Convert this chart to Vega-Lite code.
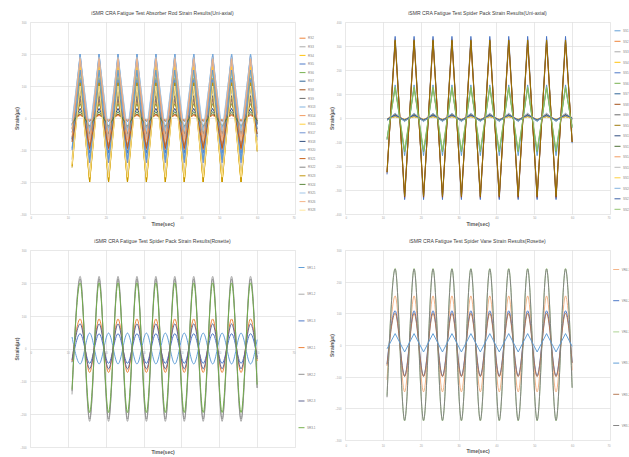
{
"$schema": "https://vega.github.io/schema/vega-lite/v6.json",
"background": "white",
"padding": {"left": 14, "top": 10, "right": 0, "bottom": 0},
"config": {
  "view": {"stroke": null},
  "font": "Liberation Sans",
  "title": {"fontSize": 5.1, "fontWeight": "normal", "color": "#404040", "offset": 5, "anchor": "middle"},
  "axis": {"gridColor": "#d9d9d9", "gridWidth": 0.6, "domain": false, "ticks": false, "labelFontSize": 2.8, "labelColor": "#a6a6a6", "titleFontSize": 5, "titleFontWeight": "bold", "titleColor": "#595959", "labelOverlap": false},
  "axisX": {"labelPadding": 2.5, "titlePadding": 2},
  "axisY": {"labelPadding": 4, "titlePadding": 0.5},
  "legend": {"orient": "none", "direction": "vertical", "symbolType": "stroke", "symbolSize": 36, "symbolStrokeWidth": 1, "labelFontSize": 3, "labelColor": "#7f7f7f", "labelOffset": 2, "padding": 0},
  "line": {"strokeWidth": 0.95}
},
"datasets": {
"p1": [
{"t":11.1,"RS2":-4,"RS3":-130,"RS4":-150,"RS5":-70,"RS6":-30,"RS7":-65,"RS8":-7,"RS9":-45,"RS13":-25,"RS14":-60,"RS15":-145,"RS17":-100,"RS18":-20,"RS20":-95,"RS21":-75,"RS22":-35,"RS23":-155,"RS24":-18,"RS25":-10,"RS26":-35,"RS28":-145},
{"t":13.25,"RS2":8,"RS3":180,"RS4":125,"RS5":200,"RS6":45,"RS7":90,"RS8":12,"RS9":70,"RS13":200,"RS14":190,"RS15":160,"RS17":120,"RS18":30,"RS20":150,"RS21":60,"RS22":60,"RS23":110,"RS24":20,"RS25":190,"RS26":185,"RS28":100},
{"t":15.75,"RS2":-6,"RS3":-180,"RS4":-200,"RS5":-110,"RS6":-40,"RS7":-90,"RS8":-10,"RS9":-60,"RS13":-60,"RS14":-100,"RS15":-200,"RS17":-140,"RS18":-30,"RS20":-130,"RS21":-95,"RS22":-50,"RS23":-200,"RS24":-25,"RS25":-40,"RS26":-70,"RS28":-185},
{"t":18.25,"RS2":8,"RS3":180,"RS4":125,"RS5":200,"RS6":45,"RS7":90,"RS8":12,"RS9":70,"RS13":200,"RS14":190,"RS15":160,"RS17":120,"RS18":30,"RS20":150,"RS21":60,"RS22":60,"RS23":110,"RS24":20,"RS25":190,"RS26":185,"RS28":100},
{"t":20.75,"RS2":-6,"RS3":-180,"RS4":-200,"RS5":-110,"RS6":-40,"RS7":-90,"RS8":-10,"RS9":-60,"RS13":-60,"RS14":-100,"RS15":-200,"RS17":-140,"RS18":-30,"RS20":-130,"RS21":-95,"RS22":-50,"RS23":-200,"RS24":-25,"RS25":-40,"RS26":-70,"RS28":-185},
{"t":23.25,"RS2":8,"RS3":180,"RS4":125,"RS5":200,"RS6":45,"RS7":90,"RS8":12,"RS9":70,"RS13":200,"RS14":190,"RS15":160,"RS17":120,"RS18":30,"RS20":150,"RS21":60,"RS22":60,"RS23":110,"RS24":20,"RS25":190,"RS26":185,"RS28":100},
{"t":25.75,"RS2":-6,"RS3":-180,"RS4":-200,"RS5":-110,"RS6":-40,"RS7":-90,"RS8":-10,"RS9":-60,"RS13":-60,"RS14":-100,"RS15":-200,"RS17":-140,"RS18":-30,"RS20":-130,"RS21":-95,"RS22":-50,"RS23":-200,"RS24":-25,"RS25":-40,"RS26":-70,"RS28":-185},
{"t":28.25,"RS2":8,"RS3":180,"RS4":125,"RS5":200,"RS6":45,"RS7":90,"RS8":12,"RS9":70,"RS13":200,"RS14":190,"RS15":160,"RS17":120,"RS18":30,"RS20":150,"RS21":60,"RS22":60,"RS23":110,"RS24":20,"RS25":190,"RS26":185,"RS28":100},
{"t":30.75,"RS2":-6,"RS3":-180,"RS4":-200,"RS5":-110,"RS6":-40,"RS7":-90,"RS8":-10,"RS9":-60,"RS13":-60,"RS14":-100,"RS15":-200,"RS17":-140,"RS18":-30,"RS20":-130,"RS21":-95,"RS22":-50,"RS23":-200,"RS24":-25,"RS25":-40,"RS26":-70,"RS28":-185},
{"t":33.25,"RS2":8,"RS3":180,"RS4":125,"RS5":200,"RS6":45,"RS7":90,"RS8":12,"RS9":70,"RS13":200,"RS14":190,"RS15":160,"RS17":120,"RS18":30,"RS20":150,"RS21":60,"RS22":60,"RS23":110,"RS24":20,"RS25":190,"RS26":185,"RS28":100},
{"t":35.75,"RS2":-6,"RS3":-180,"RS4":-200,"RS5":-110,"RS6":-40,"RS7":-90,"RS8":-10,"RS9":-60,"RS13":-60,"RS14":-100,"RS15":-200,"RS17":-140,"RS18":-30,"RS20":-130,"RS21":-95,"RS22":-50,"RS23":-200,"RS24":-25,"RS25":-40,"RS26":-70,"RS28":-185},
{"t":38.25,"RS2":8,"RS3":180,"RS4":125,"RS5":200,"RS6":45,"RS7":90,"RS8":12,"RS9":70,"RS13":200,"RS14":190,"RS15":160,"RS17":120,"RS18":30,"RS20":150,"RS21":60,"RS22":60,"RS23":110,"RS24":20,"RS25":190,"RS26":185,"RS28":100},
{"t":40.75,"RS2":-6,"RS3":-180,"RS4":-200,"RS5":-110,"RS6":-40,"RS7":-90,"RS8":-10,"RS9":-60,"RS13":-60,"RS14":-100,"RS15":-200,"RS17":-140,"RS18":-30,"RS20":-130,"RS21":-95,"RS22":-50,"RS23":-200,"RS24":-25,"RS25":-40,"RS26":-70,"RS28":-185},
{"t":43.25,"RS2":8,"RS3":180,"RS4":125,"RS5":200,"RS6":45,"RS7":90,"RS8":12,"RS9":70,"RS13":200,"RS14":190,"RS15":160,"RS17":120,"RS18":30,"RS20":150,"RS21":60,"RS22":60,"RS23":110,"RS24":20,"RS25":190,"RS26":185,"RS28":100},
{"t":45.75,"RS2":-6,"RS3":-180,"RS4":-200,"RS5":-110,"RS6":-40,"RS7":-90,"RS8":-10,"RS9":-60,"RS13":-60,"RS14":-100,"RS15":-200,"RS17":-140,"RS18":-30,"RS20":-130,"RS21":-95,"RS22":-50,"RS23":-200,"RS24":-25,"RS25":-40,"RS26":-70,"RS28":-185},
{"t":48.25,"RS2":8,"RS3":180,"RS4":125,"RS5":200,"RS6":45,"RS7":90,"RS8":12,"RS9":70,"RS13":200,"RS14":190,"RS15":160,"RS17":120,"RS18":30,"RS20":150,"RS21":60,"RS22":60,"RS23":110,"RS24":20,"RS25":190,"RS26":185,"RS28":100},
{"t":50.75,"RS2":-6,"RS3":-180,"RS4":-200,"RS5":-110,"RS6":-40,"RS7":-90,"RS8":-10,"RS9":-60,"RS13":-60,"RS14":-100,"RS15":-200,"RS17":-140,"RS18":-30,"RS20":-130,"RS21":-95,"RS22":-50,"RS23":-200,"RS24":-25,"RS25":-40,"RS26":-70,"RS28":-185},
{"t":53.25,"RS2":8,"RS3":180,"RS4":125,"RS5":200,"RS6":45,"RS7":90,"RS8":12,"RS9":70,"RS13":200,"RS14":190,"RS15":160,"RS17":120,"RS18":30,"RS20":150,"RS21":60,"RS22":60,"RS23":110,"RS24":20,"RS25":190,"RS26":185,"RS28":100},
{"t":55.75,"RS2":-6,"RS3":-180,"RS4":-200,"RS5":-110,"RS6":-40,"RS7":-90,"RS8":-10,"RS9":-60,"RS13":-60,"RS14":-100,"RS15":-200,"RS17":-140,"RS18":-30,"RS20":-130,"RS21":-95,"RS22":-50,"RS23":-200,"RS24":-25,"RS25":-40,"RS26":-70,"RS28":-185},
{"t":58.25,"RS2":8,"RS3":180,"RS4":125,"RS5":200,"RS6":45,"RS7":90,"RS8":12,"RS9":70,"RS13":200,"RS14":190,"RS15":160,"RS17":120,"RS18":30,"RS20":150,"RS21":60,"RS22":60,"RS23":110,"RS24":20,"RS25":190,"RS26":185,"RS28":100},
{"t":60,"RS2":-2,"RS3":-70,"RS4":-100,"RS5":-20,"RS6":-15,"RS7":-35,"RS8":-3,"RS9":-20,"RS13":15,"RS14":-10,"RS15":-90,"RS17":-60,"RS18":-10,"RS20":-50,"RS21":-50,"RS22":-15,"RS23":-105,"RS24":-8,"RS25":30,"RS26":10,"RS28":-100}
],
"p2": [
{"t":11.1,"SS1":-90,"SS2":-230,"SS3":-8,"SS4":-5,"SS5":-235,"SS6":-85,"SS7":-8,"SS8":-225,"SS9":-6,"SS10":-225,"SS11":-4,"SS13":-8,"SS14":-4,"SS18":-6,"SS19":-3,"SS20":-10,"SS21":-5,"SS22":-90},
{"t":13.25,"SS1":138,"SS2":330,"SS3":12,"SS4":8,"SS5":340,"SS6":125,"SS7":10,"SS8":320,"SS9":15,"SS10":325,"SS11":6,"SS13":14,"SS14":18,"SS18":10,"SS19":5,"SS20":20,"SS21":12,"SS22":130},
{"t":15.75,"SS1":-157,"SS2":-335,"SS3":-10,"SS4":-8,"SS5":-340,"SS6":-140,"SS7":-12,"SS8":-330,"SS9":-10,"SS10":-325,"SS11":-6,"SS13":-12,"SS14":-8,"SS18":-10,"SS19":-5,"SS20":-15,"SS21":-8,"SS22":-135},
{"t":18.25,"SS1":138,"SS2":330,"SS3":12,"SS4":8,"SS5":340,"SS6":125,"SS7":10,"SS8":320,"SS9":15,"SS10":325,"SS11":6,"SS13":14,"SS14":18,"SS18":10,"SS19":5,"SS20":20,"SS21":12,"SS22":130},
{"t":20.75,"SS1":-157,"SS2":-335,"SS3":-10,"SS4":-8,"SS5":-340,"SS6":-140,"SS7":-12,"SS8":-330,"SS9":-10,"SS10":-325,"SS11":-6,"SS13":-12,"SS14":-8,"SS18":-10,"SS19":-5,"SS20":-15,"SS21":-8,"SS22":-135},
{"t":23.25,"SS1":138,"SS2":330,"SS3":12,"SS4":8,"SS5":340,"SS6":125,"SS7":10,"SS8":320,"SS9":15,"SS10":325,"SS11":6,"SS13":14,"SS14":18,"SS18":10,"SS19":5,"SS20":20,"SS21":12,"SS22":130},
{"t":25.75,"SS1":-157,"SS2":-335,"SS3":-10,"SS4":-8,"SS5":-340,"SS6":-140,"SS7":-12,"SS8":-330,"SS9":-10,"SS10":-325,"SS11":-6,"SS13":-12,"SS14":-8,"SS18":-10,"SS19":-5,"SS20":-15,"SS21":-8,"SS22":-135},
{"t":28.25,"SS1":138,"SS2":330,"SS3":12,"SS4":8,"SS5":340,"SS6":125,"SS7":10,"SS8":320,"SS9":15,"SS10":325,"SS11":6,"SS13":14,"SS14":18,"SS18":10,"SS19":5,"SS20":20,"SS21":12,"SS22":130},
{"t":30.75,"SS1":-157,"SS2":-335,"SS3":-10,"SS4":-8,"SS5":-340,"SS6":-140,"SS7":-12,"SS8":-330,"SS9":-10,"SS10":-325,"SS11":-6,"SS13":-12,"SS14":-8,"SS18":-10,"SS19":-5,"SS20":-15,"SS21":-8,"SS22":-135},
{"t":33.25,"SS1":138,"SS2":330,"SS3":12,"SS4":8,"SS5":340,"SS6":125,"SS7":10,"SS8":320,"SS9":15,"SS10":325,"SS11":6,"SS13":14,"SS14":18,"SS18":10,"SS19":5,"SS20":20,"SS21":12,"SS22":130},
{"t":35.75,"SS1":-157,"SS2":-335,"SS3":-10,"SS4":-8,"SS5":-340,"SS6":-140,"SS7":-12,"SS8":-330,"SS9":-10,"SS10":-325,"SS11":-6,"SS13":-12,"SS14":-8,"SS18":-10,"SS19":-5,"SS20":-15,"SS21":-8,"SS22":-135},
{"t":38.25,"SS1":138,"SS2":330,"SS3":12,"SS4":8,"SS5":340,"SS6":125,"SS7":10,"SS8":320,"SS9":15,"SS10":325,"SS11":6,"SS13":14,"SS14":18,"SS18":10,"SS19":5,"SS20":20,"SS21":12,"SS22":130},
{"t":40.75,"SS1":-157,"SS2":-335,"SS3":-10,"SS4":-8,"SS5":-340,"SS6":-140,"SS7":-12,"SS8":-330,"SS9":-10,"SS10":-325,"SS11":-6,"SS13":-12,"SS14":-8,"SS18":-10,"SS19":-5,"SS20":-15,"SS21":-8,"SS22":-135},
{"t":43.25,"SS1":138,"SS2":330,"SS3":12,"SS4":8,"SS5":340,"SS6":125,"SS7":10,"SS8":320,"SS9":15,"SS10":325,"SS11":6,"SS13":14,"SS14":18,"SS18":10,"SS19":5,"SS20":20,"SS21":12,"SS22":130},
{"t":45.75,"SS1":-157,"SS2":-335,"SS3":-10,"SS4":-8,"SS5":-340,"SS6":-140,"SS7":-12,"SS8":-330,"SS9":-10,"SS10":-325,"SS11":-6,"SS13":-12,"SS14":-8,"SS18":-10,"SS19":-5,"SS20":-15,"SS21":-8,"SS22":-135},
{"t":48.25,"SS1":138,"SS2":330,"SS3":12,"SS4":8,"SS5":340,"SS6":125,"SS7":10,"SS8":320,"SS9":15,"SS10":325,"SS11":6,"SS13":14,"SS14":18,"SS18":10,"SS19":5,"SS20":20,"SS21":12,"SS22":130},
{"t":50.75,"SS1":-157,"SS2":-335,"SS3":-10,"SS4":-8,"SS5":-340,"SS6":-140,"SS7":-12,"SS8":-330,"SS9":-10,"SS10":-325,"SS11":-6,"SS13":-12,"SS14":-8,"SS18":-10,"SS19":-5,"SS20":-15,"SS21":-8,"SS22":-135},
{"t":53.25,"SS1":138,"SS2":330,"SS3":12,"SS4":8,"SS5":340,"SS6":125,"SS7":10,"SS8":320,"SS9":15,"SS10":325,"SS11":6,"SS13":14,"SS14":18,"SS18":10,"SS19":5,"SS20":20,"SS21":12,"SS22":130},
{"t":55.75,"SS1":-157,"SS2":-335,"SS3":-10,"SS4":-8,"SS5":-340,"SS6":-140,"SS7":-12,"SS8":-330,"SS9":-10,"SS10":-325,"SS11":-6,"SS13":-12,"SS14":-8,"SS18":-10,"SS19":-5,"SS20":-15,"SS21":-8,"SS22":-135},
{"t":58.25,"SS1":138,"SS2":330,"SS3":12,"SS4":8,"SS5":340,"SS6":125,"SS7":10,"SS8":320,"SS9":15,"SS10":325,"SS11":6,"SS13":14,"SS14":18,"SS18":10,"SS19":5,"SS20":20,"SS21":12,"SS22":130},
{"t":60,"SS1":-40,"SS2":-100,"SS3":-3,"SS4":-2,"SS5":-105,"SS6":-35,"SS7":-4,"SS8":-100,"SS9":0,"SS10":-100,"SS11":-2,"SS13":-3,"SS14":2,"SS18":-2,"SS19":-1,"SS20":-3,"SS21":0,"SS22":-40}
],
"p3": [
{"t":11.1,"SR1-1":35,"SR1-2":-140,"SR1-3":-42,"SR2-1":-40,"SR2-2":-130,"SR2-3":-35,"SR3-1":-125},
{"t":13.25,"SR1-1":-47,"SR1-2":220,"SR1-3":45,"SR2-1":90,"SR2-2":212,"SR2-3":75,"SR3-1":200},
{"t":15.75,"SR1-1":47,"SR1-2":-222,"SR1-3":-45,"SR2-1":-73,"SR2-2":-215,"SR2-3":-62,"SR3-1":-195},
{"t":18.25,"SR1-1":-47,"SR1-2":220,"SR1-3":45,"SR2-1":90,"SR2-2":212,"SR2-3":75,"SR3-1":200},
{"t":20.75,"SR1-1":47,"SR1-2":-222,"SR1-3":-45,"SR2-1":-73,"SR2-2":-215,"SR2-3":-62,"SR3-1":-195},
{"t":23.25,"SR1-1":-47,"SR1-2":220,"SR1-3":45,"SR2-1":90,"SR2-2":212,"SR2-3":75,"SR3-1":200},
{"t":25.75,"SR1-1":47,"SR1-2":-222,"SR1-3":-45,"SR2-1":-73,"SR2-2":-215,"SR2-3":-62,"SR3-1":-195},
{"t":28.25,"SR1-1":-47,"SR1-2":220,"SR1-3":45,"SR2-1":90,"SR2-2":212,"SR2-3":75,"SR3-1":200},
{"t":30.75,"SR1-1":47,"SR1-2":-222,"SR1-3":-45,"SR2-1":-73,"SR2-2":-215,"SR2-3":-62,"SR3-1":-195},
{"t":33.25,"SR1-1":-47,"SR1-2":220,"SR1-3":45,"SR2-1":90,"SR2-2":212,"SR2-3":75,"SR3-1":200},
{"t":35.75,"SR1-1":47,"SR1-2":-222,"SR1-3":-45,"SR2-1":-73,"SR2-2":-215,"SR2-3":-62,"SR3-1":-195},
{"t":38.25,"SR1-1":-47,"SR1-2":220,"SR1-3":45,"SR2-1":90,"SR2-2":212,"SR2-3":75,"SR3-1":200},
{"t":40.75,"SR1-1":47,"SR1-2":-222,"SR1-3":-45,"SR2-1":-73,"SR2-2":-215,"SR2-3":-62,"SR3-1":-195},
{"t":43.25,"SR1-1":-47,"SR1-2":220,"SR1-3":45,"SR2-1":90,"SR2-2":212,"SR2-3":75,"SR3-1":200},
{"t":45.75,"SR1-1":47,"SR1-2":-222,"SR1-3":-45,"SR2-1":-73,"SR2-2":-215,"SR2-3":-62,"SR3-1":-195},
{"t":48.25,"SR1-1":-47,"SR1-2":220,"SR1-3":45,"SR2-1":90,"SR2-2":212,"SR2-3":75,"SR3-1":200},
{"t":50.75,"SR1-1":47,"SR1-2":-222,"SR1-3":-45,"SR2-1":-73,"SR2-2":-215,"SR2-3":-62,"SR3-1":-195},
{"t":53.25,"SR1-1":-47,"SR1-2":220,"SR1-3":45,"SR2-1":90,"SR2-2":212,"SR2-3":75,"SR3-1":200},
{"t":55.75,"SR1-1":47,"SR1-2":-222,"SR1-3":-45,"SR2-1":-73,"SR2-2":-215,"SR2-3":-62,"SR3-1":-195},
{"t":58.25,"SR1-1":-47,"SR1-2":220,"SR1-3":45,"SR2-1":90,"SR2-2":212,"SR2-3":75,"SR3-1":200},
{"t":60,"SR1-1":27,"SR1-2":-120,"SR1-3":-26,"SR2-1":-38,"SR2-2":-120,"SR2-3":-32,"SR3-1":-110}
],
"p4": [
{"t":11.1,"VR4-3":-110,"VR4-2":-60,"VR4-1":-160,"VR3-1":-12,"VR3-2":-65,"VR3-3":-165},
{"t":13.25,"VR4-3":155,"VR4-2":108,"VR4-1":242,"VR3-1":36,"VR3-2":100,"VR3-3":240},
{"t":15.75,"VR4-3":-148,"VR4-2":-97,"VR4-1":-240,"VR3-1":-22,"VR3-2":-100,"VR3-3":-238},
{"t":18.25,"VR4-3":155,"VR4-2":108,"VR4-1":242,"VR3-1":36,"VR3-2":100,"VR3-3":240},
{"t":20.75,"VR4-3":-148,"VR4-2":-97,"VR4-1":-240,"VR3-1":-22,"VR3-2":-100,"VR3-3":-238},
{"t":23.25,"VR4-3":155,"VR4-2":108,"VR4-1":242,"VR3-1":36,"VR3-2":100,"VR3-3":240},
{"t":25.75,"VR4-3":-148,"VR4-2":-97,"VR4-1":-240,"VR3-1":-22,"VR3-2":-100,"VR3-3":-238},
{"t":28.25,"VR4-3":155,"VR4-2":108,"VR4-1":242,"VR3-1":36,"VR3-2":100,"VR3-3":240},
{"t":30.75,"VR4-3":-148,"VR4-2":-97,"VR4-1":-240,"VR3-1":-22,"VR3-2":-100,"VR3-3":-238},
{"t":33.25,"VR4-3":155,"VR4-2":108,"VR4-1":242,"VR3-1":36,"VR3-2":100,"VR3-3":240},
{"t":35.75,"VR4-3":-148,"VR4-2":-97,"VR4-1":-240,"VR3-1":-22,"VR3-2":-100,"VR3-3":-238},
{"t":38.25,"VR4-3":155,"VR4-2":108,"VR4-1":242,"VR3-1":36,"VR3-2":100,"VR3-3":240},
{"t":40.75,"VR4-3":-148,"VR4-2":-97,"VR4-1":-240,"VR3-1":-22,"VR3-2":-100,"VR3-3":-238},
{"t":43.25,"VR4-3":155,"VR4-2":108,"VR4-1":242,"VR3-1":36,"VR3-2":100,"VR3-3":240},
{"t":45.75,"VR4-3":-148,"VR4-2":-97,"VR4-1":-240,"VR3-1":-22,"VR3-2":-100,"VR3-3":-238},
{"t":48.25,"VR4-3":155,"VR4-2":108,"VR4-1":242,"VR3-1":36,"VR3-2":100,"VR3-3":240},
{"t":50.75,"VR4-3":-148,"VR4-2":-97,"VR4-1":-240,"VR3-1":-22,"VR3-2":-100,"VR3-3":-238},
{"t":53.25,"VR4-3":155,"VR4-2":108,"VR4-1":242,"VR3-1":36,"VR3-2":100,"VR3-3":240},
{"t":55.75,"VR4-3":-148,"VR4-2":-97,"VR4-1":-240,"VR3-1":-22,"VR3-2":-100,"VR3-3":-238},
{"t":58.25,"VR4-3":155,"VR4-2":108,"VR4-1":242,"VR3-1":36,"VR3-2":100,"VR3-3":240},
{"t":60,"VR4-3":-80,"VR4-2":-55,"VR4-1":-135,"VR3-1":-4,"VR3-2":-57,"VR3-3":-135}
]
},
"columns": 2,
"bounds": "flush",
"align": "each",
"spacing": {"row": 36, "column": 50},
"resolve": {"scale": {"color": "independent", "x": "independent", "y": "independent"}, "legend": {"color": "independent"}},
"concat": [
{
"width": 265, "height": 192,
"title": "iSMR CRA Fatigue Test Absorber Rod Strain Results(Uni-axial)",
"data": {"name": "p1"},
"transform": [{"fold": ["RS2","RS3","RS4","RS5","RS6","RS7","RS8","RS9","RS13","RS14","RS15","RS17","RS18","RS20","RS21","RS22","RS23","RS24","RS25","RS26","RS28"], "as": ["series","strain"]}],
"mark": {"type": "line"},
"encoding": {
"x": {"field": "t", "type": "quantitative", "scale": {"domain": [0,70]}, "axis": {"values": [0,10,20,30,40,50,60,70], "title": "Time(sec)"}},
"y": {"field": "strain", "type": "quantitative", "scale": {"domain": [-300,300]}, "axis": {"values": [-300,-200,-100,0,100,200,300], "title": "Strain(με)"}},
"color": {"field": "series", "type": "nominal",
 "scale": {"domain": ["RS2","RS3","RS4","RS5","RS6","RS7","RS8","RS9","RS13","RS14","RS15","RS17","RS18","RS20","RS21","RS22","RS23","RS24","RS25","RS26","RS28"],
  "range": ["#ED7D31","#A5A5A5","#FFC000","#4472C4","#70AD47","#255E91","#9E480E","#636363","#7CAFDD","#F1975A","#FFCD33","#698ED0","#264478","#5B9BD5","#C55A11","#7F7F7F","#BF9000","#548235","#9DC3E6","#F4B183","#FFE699"]},
 "legend": {"title": null, "legendX": 269, "legendY": 12.7, "rowPadding": 2.6}}
}
},
{
"width": 265, "height": 192,
"title": "iSMR CRA Fatigue Test Spider Pack Strain Results(Uni-axial)",
"data": {"name": "p2"},
"transform": [{"fold": ["SS1","SS2","SS3","SS4","SS5","SS6","SS7","SS8","SS9","SS10","SS11","SS13","SS14","SS18","SS19","SS20","SS21","SS22"], "as": ["series","strain"]}],
"mark": {"type": "line"},
"encoding": {
"x": {"field": "t", "type": "quantitative", "scale": {"domain": [0,70]}, "axis": {"values": [0,10,20,30,40,50,60,70], "title": "Time(sec)"}},
"y": {"field": "strain", "type": "quantitative", "scale": {"domain": [-400,400]}, "axis": {"values": [-400,-300,-200,-100,0,100,200,300,400], "title": "Strain(με)"}},
"color": {"field": "series", "type": "nominal",
 "scale": {"domain": ["SS1","SS2","SS3","SS4","SS5","SS6","SS7","SS8","SS9","SS10","SS11","SS13","SS14","SS18","SS19","SS20","SS21","SS22"],
  "range": ["#5B9BD5","#ED7D31","#A5A5A5","#FFC000","#4472C4","#70AD47","#255E91","#9E480E","#636363","#997300","#264478","#43682B","#F1975A","#B7B7B7","#FFCD33","#7CAFDD","#335AA1","#8CC168"]},
 "legend": {"title": null, "legendX": 269, "legendY": 5.3, "rowPadding": 4.5}}
}
},
{
"width": 265, "height": 197,
"title": "iSMR CRA Fatigue Test Spider Pack Strain Results(Rosette)",
"data": {"name": "p3"},
"transform": [{"fold": ["SR1-1","SR1-2","SR1-3","SR2-1","SR2-2","SR2-3","SR3-1"], "as": ["series","strain"]}],
"mark": {"type": "line", "interpolate": "monotone"},
"encoding": {
"x": {"field": "t", "type": "quantitative", "scale": {"domain": [0,70]}, "axis": {"values": [0,10,20,30,40,50,60,70], "title": "Time(sec)", "offset": -98.5, "titleY": 101}},
"y": {"field": "strain", "type": "quantitative", "scale": {"domain": [-300,300]}, "axis": {"values": [-300,-200,-100,0,100,200,300], "title": "Strain(με)"}},
"color": {"field": "series", "type": "nominal",
 "scale": {"domain": ["SR1-1","SR1-2","SR1-3","SR2-1","SR2-2","SR2-3","SR3-1"],
  "range": ["#5B9BD5","#A5A5A5","#4472C4","#ED7D31","#8C8C8C","#5A5F8C","#70AD47"]},
 "legend": {"title": null, "legendX": 268, "legendY": 14, "rowPadding": 20.7}}
}
},
{
"width": 265, "height": 190,
"title": "iSMR CRA Fatigue Test Spider Vane Strain Results(Rosette)",
"data": {"name": "p4"},
"transform": [{"fold": ["VR4-3","VR4-2","VR4-1","VR3-1","VR3-2","VR3-3"], "as": ["series","strain"]}],
"encoding": {
"x": {"field": "t", "type": "quantitative", "scale": {"domain": [0,70]}, "axis": {"values": [0,10,20,30,40,50,60,70], "title": "Time(sec)", "labelPadding": 4.5, "titlePadding": 1.5}},
"y": {"field": "strain", "type": "quantitative", "scale": {"domain": [-300,300]}, "axis": {"values": [-300,-200,-100,0,100,200,300], "title": "Strain(με)"}},
"color": {"field": "series", "type": "nominal",
 "scale": {"domain": ["VR4-3","VR4-2","VR4-1","VR3-1","VR3-2","VR3-3"],
  "range": ["#F4B183","#4472C4","#A9D18E","#5B9BD5","#B4764F","#7F7F7F"]},
 "legend": {"title": null, "legendX": 267.7, "legendY": 16, "rowPadding": 25.2}}
},
"layer": [
{"transform": [{"filter": "datum.series != 'VR3-1'"}], "mark": {"type": "line", "interpolate": "monotone"}},
{"transform": [{"filter": "datum.series == 'VR3-1'"}], "mark": {"type": "line"}}
]
}
]
}
